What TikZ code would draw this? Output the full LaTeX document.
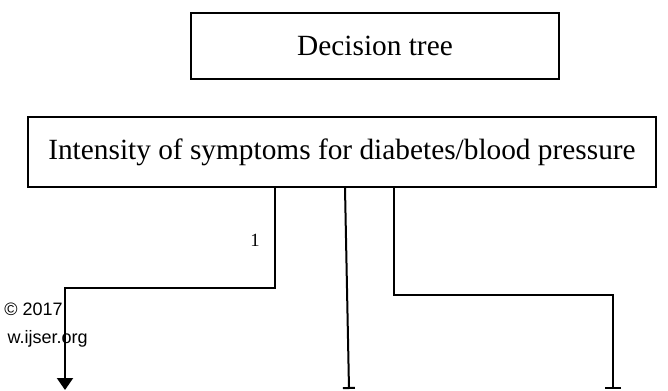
\documentclass[tikz,border=0pt]{standalone}
\usepackage{fontspec}
\setmainfont{Liberation Serif}
\newfontfamily\wmfont{Liberation Sans}
\usetikzlibrary{arrows.meta}

\begin{document}
\begin{tikzpicture}[x=0.75pt,y=-0.75pt,
	box/.style={draw, line width=1.5pt, inner sep=0pt, font=\fontsize{22}{26}\selectfont},
	link/.style={line width=1.5pt},
	wmark/.style={font=\wmfont\fontsize{13.5}{16}\selectfont, inner sep=0pt, anchor=base east}]
\useasboundingbox (0,0) rectangle (668,390);
\node [box, minimum width=276pt, minimum height=49.5pt] (tree) at (375,46) {Decision tree};
\node [box, minimum width=471pt, minimum height=52.5pt] (intensity) at (342,152)
	{Intensity of symptoms for diabetes/blood pressure};
\coordinate (lbend) at (275,288);
\coordinate (lend) at (65,390);
\coordinate (mtop) at (345,0);
\coordinate (mend) at (349,389);
\coordinate (rbend) at (394,295);
\coordinate (rend) at (613,389);
\draw [link, -{Triangle[width=12pt,length=9pt]}] (intensity.south -| lbend) -- (lbend) -| (lend);
\draw [link, -{Bar[width=9pt]}] (intensity.south -| mtop) -- (mend);
\draw [link, -{Bar[width=12pt]}] (intensity.south -| rbend) -- (rbend) -| (rend);
\node [font=\fontsize{14}{16}\selectfont] (one) at (255,240) {1};
\node [wmark] (year) at (63,315) {© 2017};
\node [wmark] (site) at (88,343) {w.ijser.org};
\end{tikzpicture}
\end{document}
